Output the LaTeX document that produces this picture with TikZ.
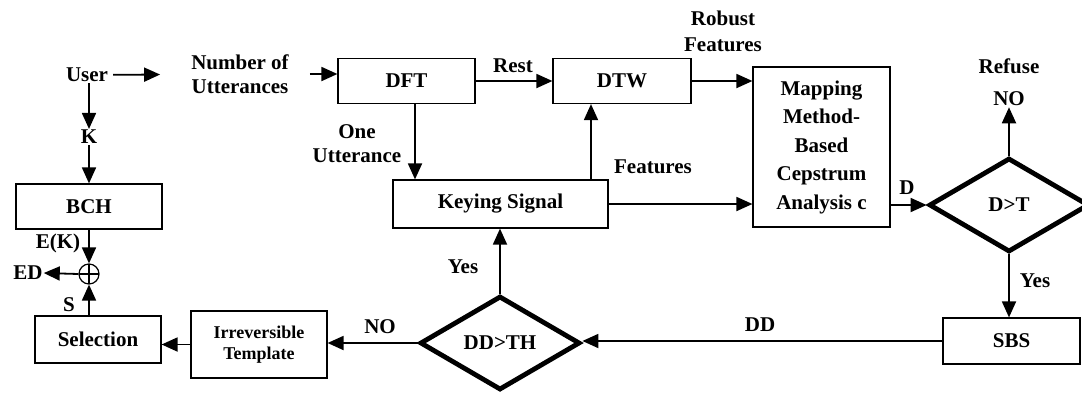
\documentclass[tikz,border=0pt]{standalone}
\usepackage{fontspec}
\setmainfont{Liberation Serif}
\usetikzlibrary{arrows.meta,shapes.geometric}

\tikzset{
  lbl/.style={font=\fontsize{21}{24}\selectfont\bfseries, inner sep=1pt, align=center},
  block/.style n args={2}{draw, line width=1.2pt, minimum width=#1, minimum height=#2,
    inner sep=0pt, align=center, font=\fontsize{21}{24}\selectfont\bfseries},
  decision/.style n args={2}{draw, diamond, line width=4.8pt, minimum width=#1, minimum height=#2,
    inner sep=0pt, font=\fontsize{21}{24}\selectfont\bfseries},
  arr/.style={-{Triangle[length=16pt,width=14pt]}, line width=1.8pt},
}

\begin{document}
\begin{tikzpicture}[x=1pt,y=-1pt]
\path[use as bounding box, fill=white] (0,0) rectangle (1082,392);

% text-only nodes
\node[lbl] (user) at (87,75) {User};
\node[lbl] (num) at (240,74) {Number of\\Utterances};
\node[lbl] (k) at (89,137) {K};
\node[lbl] (ek) at (58,243) {E(K)};
\node[lbl] (ed) at (28,273) {ED};
\node[lbl] (s) at (69,305) {S};
\node[lbl] (rest) at (513,66) {Rest};
\node[lbl, font=\fontsize{21}{26}\selectfont\bfseries] (robust) at (723,31) {Robust\\Features};
\node[lbl] (one) at (357,144) {One\\Utterance};
\node[lbl] (feat) at (653,167) {Features};
\node[lbl] (dlab) at (907,188) {D};
\node[lbl] (refuse) at (1009,66) {Refuse};
\node[lbl] (no1) at (1009,99) {NO};
\node[lbl] (yes1) at (1035,281) {Yes};
\node[lbl] (ddlab) at (760,325) {DD};
\node[lbl] (yes2) at (463,267) {Yes};
\node[lbl] (no2) at (380,327) {NO};

% blocks
\node[block={137pt}{45pt}] (dft) at (406.5,81) {DFT};
\node[block={138pt}{45pt}] (dtw) at (622,81) {DTW};
\node[block={137pt}{160pt}, font=\fontsize{21}{28.5}\selectfont\bfseries] (map) at (821.5,147)
  {Mapping\\Method-\\Based\\Cepstrum\\Analysis c};
\node[block={215pt}{48pt}] (key) at (500.5,204) {Keying Signal};
\node[block={146pt}{45pt}] (bch) at (89,206.5) {BCH};
\node[block={137pt}{46pt}] (sbs) at (1011.5,341) {SBS};
\node[block={136pt}{67pt}, font=\fontsize{18}{21}\selectfont\bfseries] (irr) at (259,344.5)
  {Irreversible\\Template};
\node[block={126pt}{47pt}] (sel) at (98,339.5) {Selection};

% decisions
\node[decision={160pt}{94pt}] (dt) at (1009,205) {D>T};
\node[decision={160pt}{94pt}] (dd) at (500,343) {DD>TH};

% exclusive-or junction
\node[draw, circle, line width=1.2pt, minimum size=20pt, inner sep=0pt,
  path picture={
    \draw[line width=1.2pt] (path picture bounding box.north) -- (path picture bounding box.south);
    \draw[line width=1.2pt] (path picture bounding box.west) -- (path picture bounding box.east);
  }] (xor) at (89,274) {};

% connectors
\draw[arr, shorten <=4pt, shorten >=30pt] (user) -- (num);
\draw[arr] ([xshift=20pt]num.east) -- (num.east -| dft.west);
\draw[arr] (k |- user.south) -- (k);
\draw[arr] (k) -- (bch.north);
\draw[arr] (dft.east) -- (dtw.west);
\draw[arr] (dtw.east) -- (dtw.east -| map.west);
\draw[arr] ([xshift=8.5pt]dft.south) -- ([xshift=8.5pt]dft.south |- key.north);
\draw[arr] ([xshift=-31pt]dtw.south |- key.north) -- ([xshift=-31pt]dtw.south);
\draw[arr] (key.east) -- (key.east -| map.west);
\draw[arr] (dt.west -| map.east) -- (dt.west);
\draw[arr] (dt.north) -- (dt.north |- no1.south);
\draw[arr] (dt.south) -- (dt.south |- sbs.north);
\draw[arr] (sbs.west) -- (sbs.west -| dd.east);
\draw[arr] (dd.north) -- (dd.north |- key.south);
\draw[arr] (dd.west) -- (dd.west -| irr.east);
\draw[arr] (irr.west) -- (irr.west -| sel.east);
\draw[arr] (xor.south |- sel.north) -- (xor.south);
\draw[arr] (bch.south -| xor) -- (xor.north);
\draw[arr] (xor.west) -- (ed.east);
\end{tikzpicture}
\end{document}
